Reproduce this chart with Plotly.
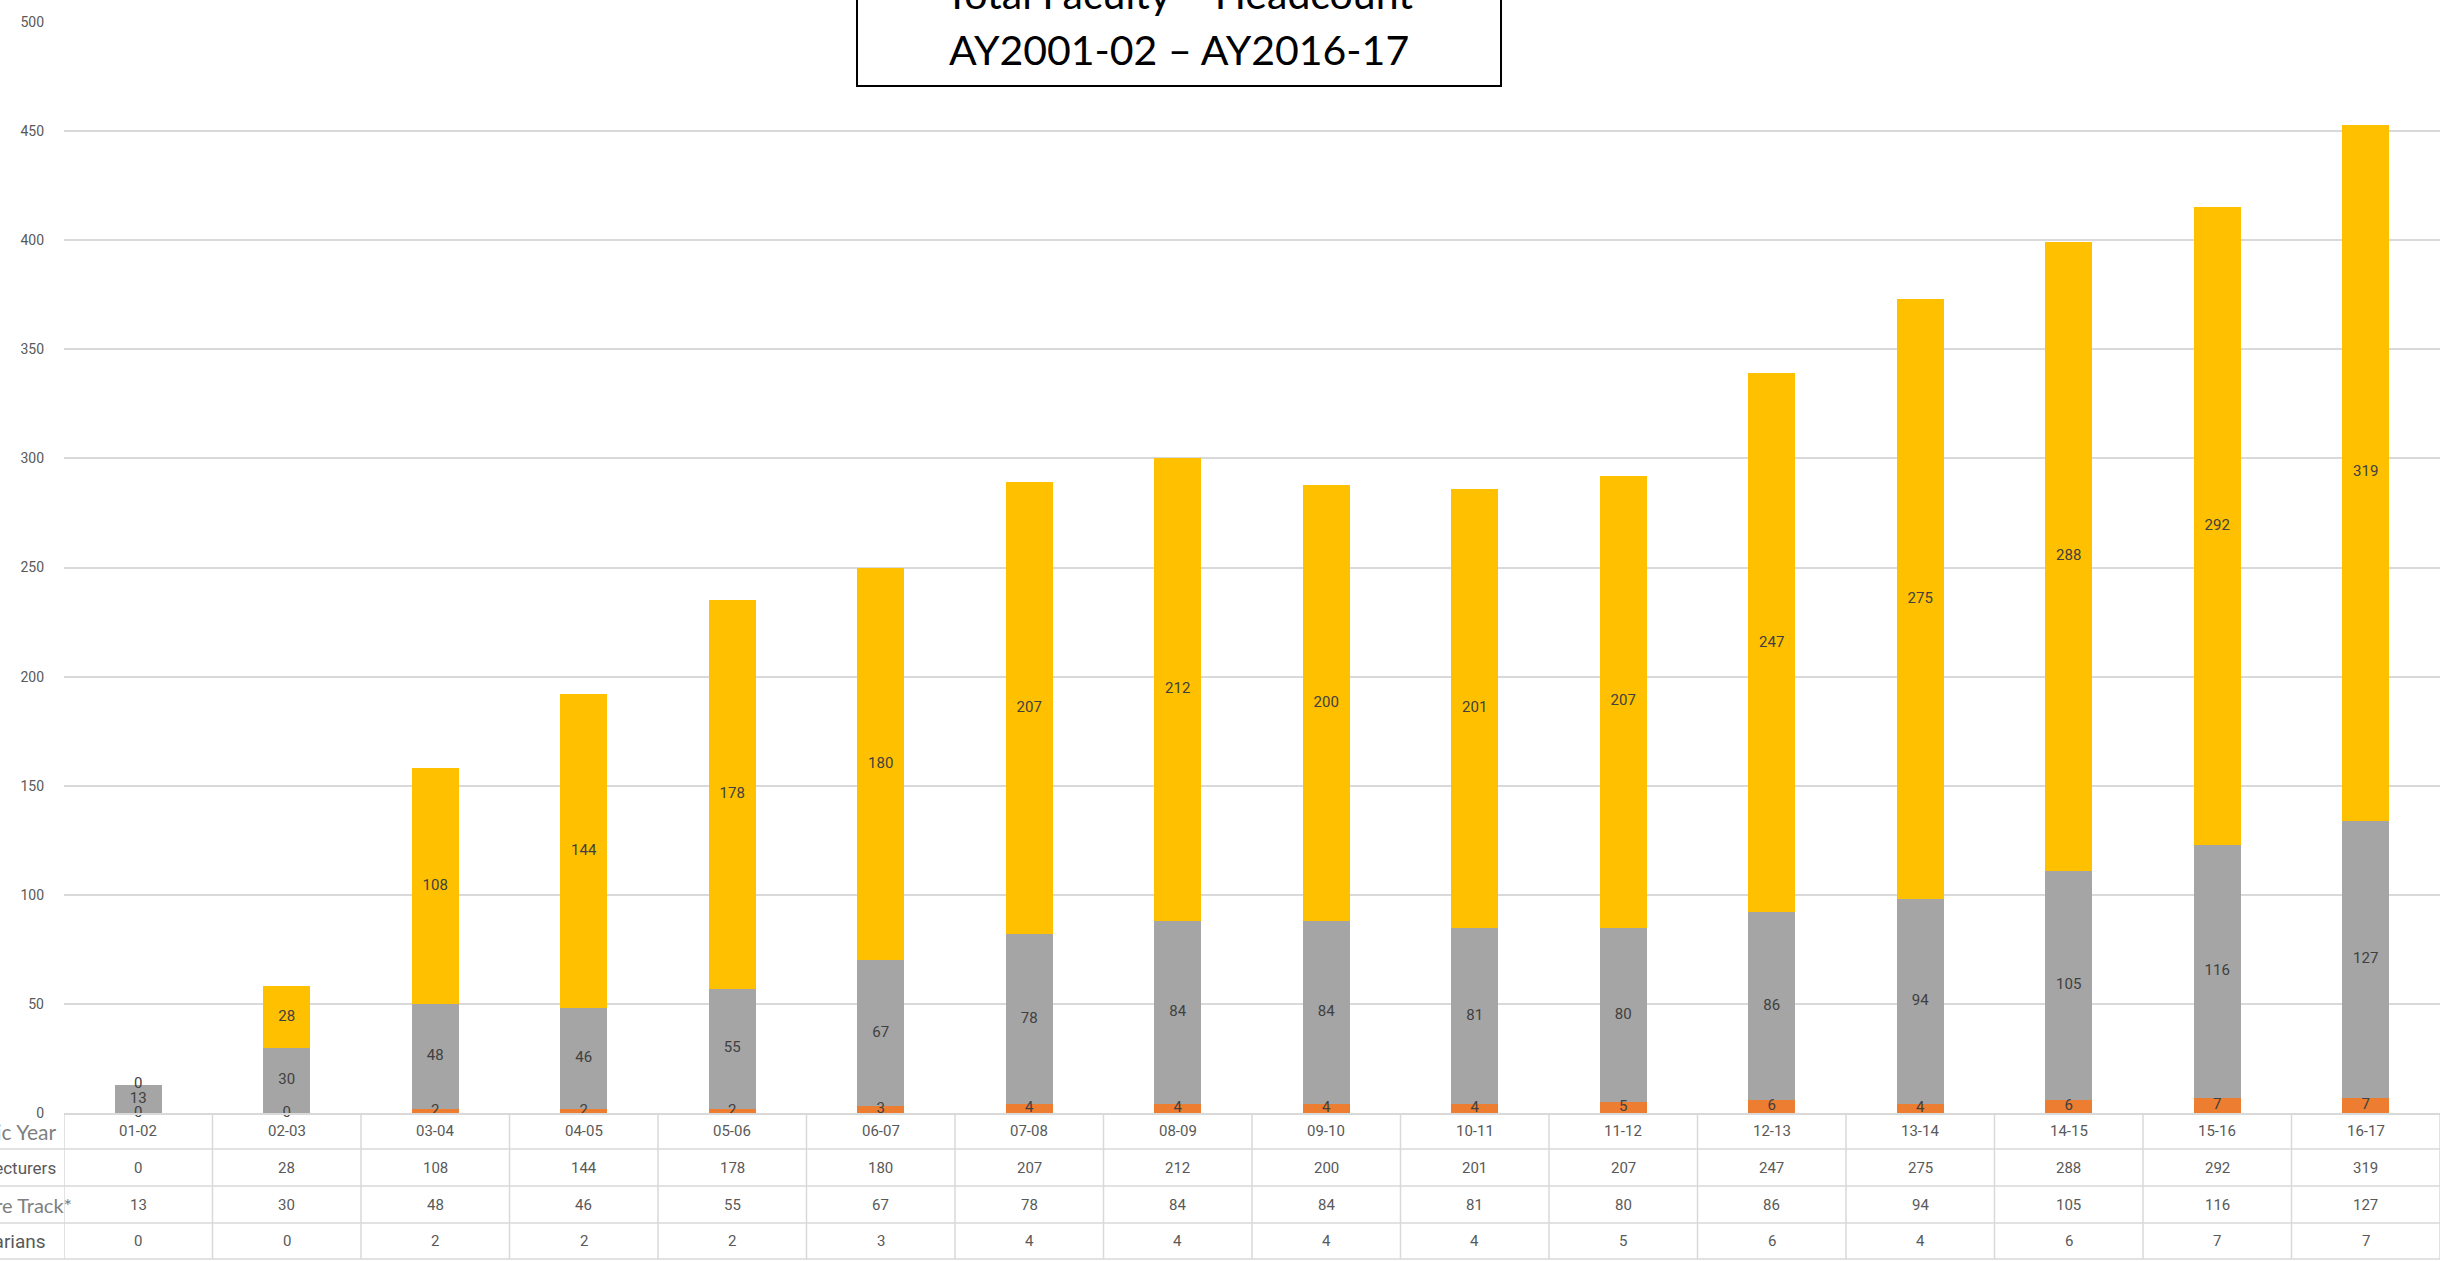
import plotly.graph_objects as go

years = ["01-02", "02-03", "03-04", "04-05", "05-06", "06-07", "07-08", "08-09",
         "09-10", "10-11", "11-12", "12-13", "13-14", "14-15", "15-16", "16-17"]
lecturers = [0, 28, 108, 144, 178, 180, 207, 212, 200, 201, 207, 247, 275, 288, 292, 319]
tenure_track = [13, 30, 48, 46, 55, 67, 78, 84, 84, 81, 80, 86, 94, 105, 116, 127]
librarians = [0, 0, 2, 2, 2, 3, 4, 4, 4, 4, 5, 6, 4, 6, 7, 7]

row_labels = ["Academic Year", "Lecturers", "Tenure Track*", "Librarians"]
title_lines = ["Total Faculty \u2013 Headcount", "AY2001-02 \u2013 AY2016-17"]

W, H = 2446, 1261
L, R, T, B = 64, 6, 22, 148
PW, PH = W - L - R, H - T - B


def px_x(px):
    return (px - L) / PW


def px_y(py):
    return (H - B - py) / PH


C_LIB = "#ED7D31"
C_TEN = "#A5A5A5"
C_LEC = "#FFC000"
GRID = "#D9D9D9"
TXT = "#595959"

fig = go.Figure()
fig.add_trace(go.Bar(x=years, y=librarians, name="Librarians", marker_color=C_LIB,
                     marker_line_width=0, hoverinfo="x+y+name"))
fig.add_trace(go.Bar(x=years, y=tenure_track, name="Tenure Track*", marker_color=C_TEN,
                     marker_line_width=0, hoverinfo="x+y+name"))
fig.add_trace(go.Bar(x=years, y=lecturers, name="Lecturers", marker_color=C_LEC,
                     marker_line_width=0, hoverinfo="x+y+name"))

# data labels centred in each segment (zeros shown too, as in the original)
lab_x, lab_y, lab_t = [], [], []
for i, yr in enumerate(years):
    base = 0
    for series in (librarians, tenure_track, lecturers):
        v = series[i]
        lab_x.append(yr)
        lab_y.append(base + v / 2)
        lab_t.append(str(v))
        base += v
fig.add_trace(go.Scatter(x=lab_x, y=lab_y, text=lab_t, mode="text",
                         textfont=dict(family="Roboto", size=15, color="#404040"),
                         cliponaxis=False, hoverinfo="skip", showlegend=False))

annotations = []
shapes = []

# data table below the chart
row_centers = [1131, 1167.5, 1204.5, 1241]
row_lines = [1149, 1186, 1223, 1259]
table_rows = [years, lecturers, tenure_track, librarians]
for r, vals in enumerate(table_rows):
    for i, v in enumerate(vals):
        annotations.append(dict(x=i, xref="x", y=px_y(row_centers[r]), yref="paper",
                                text=str(v), showarrow=False, xanchor="center", yanchor="middle",
                                font=dict(family="Roboto", size=15, color=TXT)))
label_styles = [
    dict(size=21, color="#7F7F7F", family="Lato", right=58),
    dict(size=17, color=TXT, family="Roboto", right=58),
    dict(size=20, color="#7F7F7F", family="Lato", right=74),
    dict(size=19, color=TXT, family="Roboto", right=48),
]
for r, lab in enumerate(row_labels):
    st = label_styles[r]
    annotations.append(dict(x=px_x(st["right"]), xref="paper", y=px_y(row_centers[r]), yref="paper",
                            text=lab, showarrow=False, xanchor="right", yanchor="middle",
                            font=dict(family=st["family"], size=st["size"], color=st["color"])))
for ly in row_lines:
    shapes.append(dict(type="line", xref="paper", yref="paper", x0=px_x(0), x1=1,
                       y0=px_y(ly), y1=px_y(ly), line=dict(color=GRID, width=1.5)))
for k in range(len(years) + 1):
    shapes.append(dict(type="line", xref="x", yref="paper", x0=k - 0.5, x1=k - 0.5,
                       y0=0, y1=px_y(1259), line=dict(color=GRID, width=1.5)))

# title box (partly outside the top edge, as in the original)
shapes.append(dict(type="rect", xref="paper", yref="paper", x0=px_x(857), x1=px_x(1501),
                   y0=px_y(86), y1=px_y(-60), fillcolor="white",
                   line=dict(color="black", width=2), layer="above"))
annotations.append(dict(x=px_x(1179), xref="paper", y=px_y(-6), yref="paper",
                        text=title_lines[0], showarrow=False, xanchor="center", yanchor="middle",
                        font=dict(family="Lato", size=41, color="black")))
annotations.append(dict(x=px_x(1179), xref="paper", y=px_y(49), yref="paper",
                        text=title_lines[1], showarrow=False, xanchor="center", yanchor="middle",
                        font=dict(family="Lato", size=41, color="black")))

fig.update_layout(
    width=W, height=H,
    margin=dict(l=L, r=R, t=T, b=B, pad=0),
    barmode="stack",
    bargap=0.683,
    showlegend=False,
    plot_bgcolor="white",
    paper_bgcolor="white",
    annotations=annotations,
    shapes=shapes,
    xaxis=dict(type="category", range=[-0.5, 15.5], showticklabels=False, showgrid=False,
               zeroline=False, showline=True, linecolor=GRID, linewidth=1.5, fixedrange=True),
    yaxis=dict(range=[0, 500], dtick=50, showgrid=True, gridcolor=GRID, gridwidth=1.5,
               zeroline=False, showline=False, ticks="", ticklabelstandoff=19,
               tickfont=dict(family="Roboto", size=14, color=TXT), fixedrange=True),
)

fig.write_html("out.html", config={"displayModeBar": False},
               post_script="document.body.style.margin='0';document.body.style.overflow='hidden';")
